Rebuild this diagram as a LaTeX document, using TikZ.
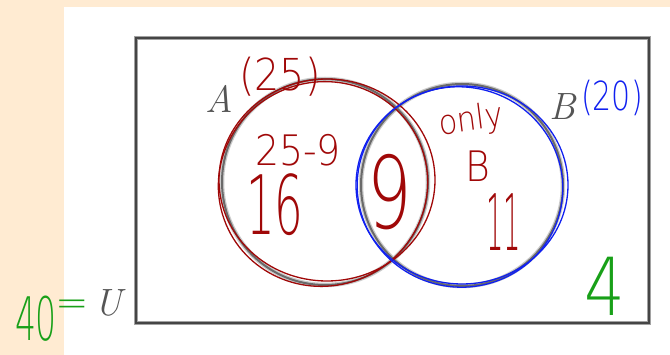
\documentclass[tikz,border=0pt]{standalone}
\usepackage{fontspec}
\newfontfamily\handfont{DejaVu Sans ExtraLight}
\usetikzlibrary{positioning}
\definecolor{paper}{HTML}{FFEBD2}
\definecolor{frame}{HTML}{454545}
\definecolor{ring}{HTML}{6A6A6A}
\definecolor{setgray}{HTML}{555555}
\definecolor{inkred}{HTML}{A00808}
\definecolor{inkblue}{HTML}{1020F0}
\definecolor{inkgreen}{HTML}{18A018}

\begin{document}
\begin{tikzpicture}[x=1pt,y=-1pt,
  setname/.style={text=setgray,inner sep=0pt,font=\fontsize{38}{38}\selectfont\itshape},
  hand/.style={inner sep=0pt,font=\handfont\fontsize{#1}{#1}\selectfont},
  ring/.style={draw=ring,line width=2pt},
  halo/.style={draw=ring!35,line width=4.5pt},
  pen/.style={line width=1.3pt}]
  \useasboundingbox (0,0) rectangle (670,355);
  \fill[paper] (0,0) rectangle (670,355);
  \fill[white] (64,7) rectangle (670,355);
  % universe and the two sets
  \draw[draw=frame!50,line width=4pt] (136,38) rectangle (649,323);
  \draw[draw=frame,line width=2.2pt] (136,38) rectangle (649,323);
  \draw[halo] (325,182) circle (103) (462,185) circle (101);
  \draw[ring] (325,182) circle (103) (462,185) circle (101);
  \node[setname] (setA) at (219,99) {A};
  \node[setname] (setB) at (563,107) {B};
  \node[setname] (univ) at (108,303) {U};
  % hand-drawn rings
  \draw[pen,inkred] (327,180) ellipse [x radius=108,y radius=101];
  \draw[pen,inkred,rotate around={20:(323,184)}] (323,184) ellipse [x radius=105,y radius=102];
  \draw[pen,inkblue] (462,185) ellipse [x radius=106,y radius=99];
  \draw[pen,inkblue,rotate around={-15:(460,187)}] (460,187) ellipse [x radius=103,y radius=100];
  % counts
  \node[hand=44pt,text=inkred,xscale=0.9] (sizeA) at (280,77) {(25)};
  \node[hand=42pt,text=inkred,xscale=0.9] (diffA) at (298,150) {25-9};
  \node[hand=82pt,text=inkred,xscale=0.55] (onlyA) at (275,205) {16};
  \node[hand=100pt,text=inkred,xscale=0.7] (both) at (390,192) {9};
  \node[hand=34pt,text=inkred,xscale=0.9,rotate=8] (onlyword) at (471,121) {only};
  \node[hand=42pt,text=inkred,xscale=0.9] (onlyB) at (478,166) {B};
  \node[hand=78pt,text=inkred,xscale=0.35] (countB) at (504,222) {11};
  \node[hand=40pt,text=inkblue,xscale=0.75] (sizeB) at (612,98) {(20)};
  \node[hand=80pt,text=inkgreen,xscale=0.8] (outside) at (605,286) {4};
  \node[hand=60pt,text=inkgreen,xscale=0.55] (total) at (36,319) {40};
  \node[hand=40pt,text=inkgreen] (equals) at (72,308) {=};
\end{tikzpicture}
\end{document}
